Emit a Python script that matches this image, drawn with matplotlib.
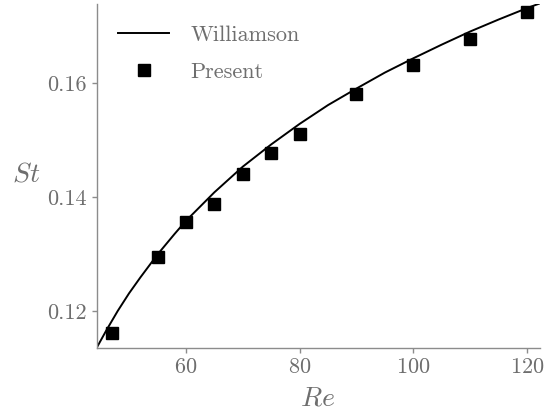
import matplotlib
matplotlib.use("Agg")
import matplotlib.pyplot as plt

plt.rcParams['font.family'] = 'cmr10'
plt.rcParams['mathtext.fontset'] = 'cm'
plt.rcParams['axes.formatter.use_mathtext'] = True

# Williamson curve
re_will = [44, 46, 48, 50, 52, 55, 58, 60, 65, 70, 75, 80, 85, 90, 95,
           100, 105, 110, 115, 120, 123]
st_will = [0.1130, 0.1166, 0.1200, 0.1231, 0.1259, 0.1299, 0.1335, 0.1358,
           0.1408, 0.1453, 0.1492, 0.1528, 0.1561, 0.1590, 0.1618, 0.1643,
           0.1667, 0.1690, 0.1711, 0.1731, 0.1742]

# present results
re_pres = [47, 55, 60, 65, 70, 75, 80, 90, 100, 110, 120]
st_pres = [0.1161, 0.1295, 0.1356, 0.1388, 0.1441, 0.1477, 0.1510, 0.1580,
           0.1631, 0.1677, 0.1724]

xticks = [60, 80, 100, 120]
yticks = [0.12, 0.14, 0.16]

grey = '#6e6e6e'

fig = plt.figure(figsize=(5.45, 4.12), dpi=100)
ax = fig.add_axes([0.1774, 0.1553, 0.991 - 0.1774, 0.990 - 0.1553])

ax.plot(re_will, st_will, color='black', lw=1.4, label='Williamson')
ax.plot(re_pres, st_pres, 's', color='black', ms=8.6, label='Present')

ax.set_xlim(44.3, 122.3)
ax.set_ylim(0.1135, 0.1738)
ax.set_xticks(xticks)
ax.set_yticks(yticks)
ax.set_yticklabels(['%.2f' % v for v in yticks])

for s in ['top', 'right']:
    ax.spines[s].set_visible(False)
for s in ['left', 'bottom']:
    ax.spines[s].set_color('#8c8c8c')
    ax.spines[s].set_linewidth(1.0)
ax.tick_params(colors='#8c8c8c', labelcolor=grey, labelsize=16,
               length=3.5, width=1.0)

ax.set_xlabel('$Re$', fontsize=20, color=grey, va='center')
ax.xaxis.set_label_coords(0.498, -0.145)
ax.set_ylabel('$St$', fontsize=20, color=grey, rotation=0,
              va='center', ha='center')
ax.yaxis.set_label_coords(-0.159, 0.506)

leg = ax.legend(loc='upper left', bbox_to_anchor=(118 / 545, 1 - 25 / 412),
                bbox_transform=fig.transFigure, frameon=False, fontsize=16,
                handlelength=2.3, handletextpad=0.95, labelspacing=0.8,
                borderpad=0, borderaxespad=0)
for t in leg.get_texts():
    t.set_color(grey)

fig.savefig('out.png', dpi=100)
